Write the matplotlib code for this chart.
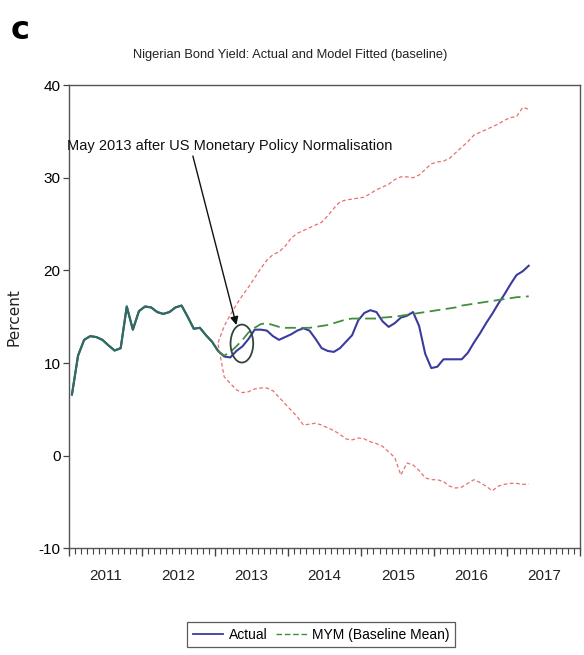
import matplotlib
matplotlib.use("Agg")
import matplotlib.pyplot as plt
import matplotlib.patches as mpatches
from matplotlib import font_manager
import matplotlib.transforms as mtransforms
import numpy as np

# monthly observations from 2011M01; forecast band / model path from 2013M01
START_YEAR = 2011
FCST_START = 24

actual = [
    6.6, 10.8, 12.5, 12.9, 12.8, 12.5, 11.9, 11.35, 11.6, 16.1, 13.6, 15.6,
    16.1, 16.0, 15.5, 15.3, 15.5, 16.0, 16.2, 15.0, 13.7, 13.8, 13.0, 12.3,
    11.3, 10.7, 10.6, 11.3, 11.8, 12.6, 13.6, 13.6, 13.5, 12.9, 12.5, 12.8,
    13.1, 13.5, 13.75, 13.5, 12.6, 11.6, 11.3, 11.2, 11.6, 12.3, 13.0, 14.6,
    15.4, 15.7, 15.5, 14.5, 13.9, 14.3, 14.9, 15.1, 15.5, 14.0, 11.0, 9.45,
    9.6, 10.4, 10.4, 10.4, 10.4, 11.1, 12.2, 13.2, 14.3, 15.3, 16.4, 17.4,
    18.5, 19.5, 19.9, 20.5,
]

mym_mean = [
    11.3, 10.8, 11.2, 11.8, 12.5, 13.3, 13.8, 14.2, 14.3, 14.1, 13.9, 13.8,
    13.8, 13.8, 13.8, 13.8, 13.9, 14.0, 14.1, 14.3, 14.5, 14.7, 14.8, 14.8,
    14.8, 14.8, 14.8, 14.9, 14.95, 15.0, 15.1, 15.2, 15.3, 15.4, 15.5, 15.6,
    15.7, 15.8, 15.9, 16.0, 16.2, 16.3, 16.4, 16.5, 16.6, 16.7, 16.8, 16.9,
    17.0, 17.1, 17.15, 17.2,
]

upper = [
    12.2, 14.0, 15.2, 16.3, 17.3, 18.2, 19.2, 20.2, 21.1, 21.7, 22.0, 22.6,
    23.5, 24.0, 24.3, 24.6, 24.9, 25.2, 25.9, 26.7, 27.4, 27.6, 27.7, 27.8,
    27.9, 28.3, 28.7, 29.0, 29.3, 29.8, 30.1, 30.1, 30.0, 30.3, 30.9, 31.5,
    31.7, 31.8, 32.1, 32.7, 33.3, 33.9, 34.6, 34.9, 35.2, 35.5, 35.8, 36.2,
    36.5, 36.6, 37.6, 37.4,
]

lower = [
    12.0, 8.5, 7.8, 7.1, 6.8, 6.9, 7.2, 7.3, 7.3, 7.0, 6.3, 5.6,
    4.9, 4.2, 3.3, 3.4, 3.5, 3.3, 3.0, 2.7, 2.3, 1.8, 1.7, 1.9,
    1.8, 1.5, 1.3, 1.0, 0.4, -0.2, -2.1, -0.8, -1.0, -1.6, -2.4, -2.6,
    -2.6, -2.8, -3.3, -3.5, -3.4, -3.0, -2.6, -2.9, -3.3, -3.8, -3.3, -3.1,
    -3.0, -3.0, -3.1, -3.1,
]

year_labels = ["2011", "2012", "2013", "2014", "2015", "2016", "2017"]
y_ticks = [-10, 0, 10, 20, 30, 40]

TITLE = "Nigerian Bond Yield: Actual and Model Fitted (baseline)"
NOTE = "May 2013 after US Monetary Policy Normalisation"


def pick_font(names):
    have = {f.name for f in font_manager.fontManager.ttflist}
    for n in names:
        if n in have:
            return n
    return "DejaVu Sans"


NARROW = pick_font(["Liberation Sans Narrow", "DejaVu Sans Condensed",
                    "Liberation Sans"])


def month_x(m):
    # EViews puts a monthly obs in the middle of its month
    return START_YEAR + (np.asarray(m) + 0.5) / 12.0


def main():
    plt.rcParams["font.family"] = [NARROW, "DejaVu Sans"]

    fig = plt.figure(figsize=(5.84, 6.55), dpi=100)
    ax = fig.add_axes([0.118, 0.163, 0.876, 0.707])

    m_all = np.arange(len(actual))
    m_fc = np.arange(FCST_START, FCST_START + len(mym_mean))
    x_all = month_x(m_all)
    x_fc = month_x(m_fc)

    ax.plot(x_fc, upper, color="#e87070", lw=0.9, ls=(0, (3, 2)), zorder=2)
    ax.plot(x_fc, lower, color="#e87070", lw=0.9, ls=(0, (3, 2)), zorder=2)
    ax.plot(x_all, actual, color="#3b3b9e", lw=1.5, zorder=3)
    # history: model path sits on top of actual
    hist = slice(0, FCST_START + 1)
    ax.plot(x_all[hist], np.asarray(actual)[hist], color="#2f6f5a", lw=1.5,
            zorder=4)
    ax.plot(x_fc, mym_mean, color="#3f8f3f", lw=1.3, ls=(0, (6, 3)), zorder=4)

    ax.set_xlim(START_YEAR, START_YEAR + len(year_labels))
    ax.set_ylim(-10, 40)
    ax.set_yticks(y_ticks)
    ax.set_yticklabels([str(v) for v in y_ticks], fontsize=11)

    years = np.arange(START_YEAR, START_YEAR + len(year_labels) + 1)
    ax.set_xticks(years)
    ax.set_xticklabels([])
    ax.set_xticks(START_YEAR + np.arange(0, 12 * len(year_labels)) / 12.0,
                  minor=True)
    ax.tick_params(axis="x", which="major", direction="out", length=6,
                   width=1.0, color="#444444")
    ax.tick_params(axis="x", which="minor", direction="out", length=4,
                   width=0.8, color="#444444")
    ax.tick_params(axis="y", direction="out", length=4, width=0.9,
                   color="#444444", pad=2)
    trans = mtransforms.blended_transform_factory(ax.transData, ax.transAxes)
    for i, lab in enumerate(year_labels):
        ax.text(START_YEAR + i + 0.5, -0.045, lab, transform=trans,
                ha="center", va="top", fontsize=11, color="#222222")

    for sp in ax.spines.values():
        sp.set_color("#555555")
        sp.set_linewidth(1.0)

    ax.set_ylabel("Percent", fontsize=11, family="DejaVu Sans",
                  labelpad=12, color="#222222")

    # annotation: arrow from label into the circled May 2013 point
    ax.annotate(NOTE, xy=(month_x(27.0), 14.1), xytext=(START_YEAR - 0.03, 33.4),
                fontsize=10.5, ha="left", va="center", color="#111111",
                arrowprops=dict(arrowstyle="-|>", color="#111111", lw=1.0,
                                mutation_scale=12, shrinkA=0, shrinkB=0,
                                relpos=(0.38, 0.5)),
                zorder=6)
    ax.add_patch(mpatches.Ellipse((month_x(27.9), 12.1), 0.31, 4.1,
                                  angle=0, fill=False, ec="#33463d",
                                  lw=1.3, zorder=5))

    fig.text(0.497, 0.916, TITLE, ha="center", va="center", fontsize=9.3,
             color="#222222")
    fig.text(0.018, 0.953, "c", ha="left", va="center", fontsize=23,
             fontweight="bold", family="DejaVu Sans")

    h1, = ax.plot([], [], color="#3b3b9e", lw=1.3, label="Actual")
    h2, = ax.plot([], [], color="#3f8f3f", lw=1.0, ls=(0, (4, 2)),
                  label="MYM (Baseline Mean)")
    leg = fig.legend(handles=[h1, h2], loc="center", ncol=2,
                     bbox_to_anchor=(0.55, 0.031), fontsize=10,
                     frameon=True, fancybox=False, handlelength=2.2,
                     columnspacing=0.6, handletextpad=0.4,
                     borderpad=0.4)
    leg.get_frame().set_edgecolor("#333333")
    leg.get_frame().set_linewidth(0.9)

    fig.savefig("out.png", dpi=100, facecolor="white")
    plt.close(fig)


if __name__ == "__main__":
    main()
